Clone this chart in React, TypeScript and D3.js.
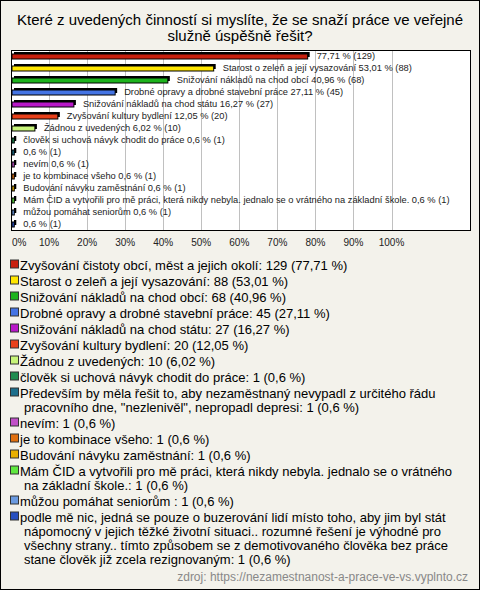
import React from "react";
import * as d3 from "d3";

const W = 480;
const H = 590;

const titleLines = [
  "Které z uvedených činností si myslíte, že se snaží práce ve veřejné",
  "služně úspěšně řešit?",
];

const names = [
  "Zvyšování čistoty obcí, měst a jejich okolí",
  "Starost o zeleň a její vysazování",
  "Snižování nákladů na chod obcí",
  "Drobné opravy a drobné stavební práce",
  "Snižování nákladů na chod státu",
  "Zvyšování kultury bydlení",
  "Žádnou z uvedených",
  "člověk si uchová návyk chodit do práce",
  "Především by měla řešit to, aby nezaměstnaný nevypadl z určitého řádu pracovního dne, \"nezlenivěl\", nepropadl depresi",
  "nevím",
  "je to kombinace všeho",
  "Budování návyku zaměstnání",
  "Mám ČID a vytvořili pro mě práci, která nikdy nebyla. jednalo se o vrátného na základní škole.",
  "můžou pomáhat seniorům ",
  "podle mě nic, jedná se pouze o buzerování lidí místo toho, aby jim byl stát nápomocný v jejich těžké životní situaci.. rozumné řešení je výhodné pro všechny strany.. tímto způsobem se z demotivovaného člověka bez práce stane člověk již zcela rezignovaným",
];

const counts = [129, 88, 68, 45, 27, 20, 10, 1, 1, 1, 1, 1, 1, 1, 1];
const percents = [77.71, 53.01, 40.96, 27.11, 16.27, 12.05, 6.02, 0.6, 0.6, 0.6, 0.6, 0.6, 0.6, 0.6, 0.6];

const colors = [
  "#c8200e", "#ffe600", "#1db31d", "#4474e4", "#b818c8", "#e8401a", "#c8f57a",
  "#1f8c50", "#1d6f8c", "#c050c8", "#e07010", "#e8b000", "#60e840", "#6a9ae0", "#2850c0",
];

const tickValues = [0, 10, 20, 30, 40, 50, 60, 70, 80, 90, 100];
const sourceText = "zdroj: https://nezamestnanost-a-prace-ve-vs.vyplnto.cz";

const FONT = "'Liberation Sans', Arial, sans-serif";

const fmt = (v: number) => String(v).replace(".", ",");

let ctx: CanvasRenderingContext2D | null = null;
function measure(text: string, font: string) {
  if (!ctx) ctx = document.createElement("canvas").getContext("2d");
  if (!ctx) return text.length * 6;
  ctx.font = font;
  return ctx.measureText(text).width;
}

function wrap(text: string, font: string, maxW: number, firstX: number, restX: number) {
  const words = text.split(" ");
  const lines: string[] = [];
  let cur = "";
  for (const w of words) {
    const cand = cur === "" ? w : cur + " " + w;
    const x0 = lines.length === 0 ? firstX : restX;
    if (cur !== "" && x0 + measure(cand, font) > maxW) {
      lines.push(cur);
      cur = w;
    } else {
      cur = cand;
    }
  }
  if (cur !== "") lines.push(cur);
  return lines;
}

export default function App() {
  const idx = names.map((_, i) => i);
  const x = d3.scaleLinear().domain([0, 100]).range([11, 391.5]);
  const y = d3.scaleBand<number>().domain(idx).range([50, 230]);
  const plotL = 11, plotR = 470, plotT = 50, plotB = 230;
  const barH = 5;
  const labelSize = 9.3;
  const labelFont = `${labelSize}px ${FONT}`;
  const legendFont = `13px ${FONT}`;

  // legend layout
  let ly = 269.5;
  const legendItems = idx.map((i) => {
    const text = `${names[i]}: ${counts[i]} (${fmt(percents[i])} %)`;
    const lines = wrap(text, legendFont, 468, 20, 24);
    const item = { i, lines, y: ly };
    ly += 16 + (lines.length - 1) * 14;
    return item;
  });

  return (
    <svg width={W} height={H} style={{ position: "fixed", left: 0, top: 0 }} fontFamily={FONT}>
      <rect x={0.5} y={0.5} width={W - 1} height={H - 1} fill="#f3f2eb" stroke="#000" />
      {titleLines.map((t, k) => (
        <text key={k} x={W / 2} y={25 + k * 16} textAnchor="middle" fontSize={15} fill="#000">
          {t}
        </text>
      ))}
      <rect x={plotL + 0.5} y={plotT + 0.5} width={plotR - plotL} height={plotB - plotT} fill="#fff" stroke="#000" />
      {tickValues.slice(1).map((t) => (
        <line key={t} x1={Math.round(x(t)) + 0.5} x2={Math.round(x(t)) + 0.5} y1={plotT + 1} y2={plotB} stroke="#c0c0c0" />
      ))}
      {idx.map((i) => {
        const cy = (y(i) as number) + y.bandwidth() / 2;
        const x0 = x(0) + 1;
        const w = Math.max(x(percents[i]) - x(0), 1.5);
        const top = cy - barH / 2 + 0.5;
        const valueText = `${fmt(percents[i])} % (${counts[i]})`;
        const full = `${names[i]} ${valueText}`;
        const lx = x0 + w + 9;
        const showName = lx + measure(full, labelFont) < plotR - 4;
        return (
          <g key={i}>
            <rect x={x0 + 2} y={top - 2} width={w} height={barH} fill="#000" />
            <rect x={x0} y={top} width={w} height={barH} fill={colors[i]} stroke="#000" strokeWidth={1} />
            <text x={lx} y={cy + 3.3} fontSize={labelSize} fill="#222">
              {showName ? full : valueText}
            </text>
          </g>
        );
      })}
      {tickValues.map((t, k) => (
        <text key={t} x={k === 0 ? x(t) + 1 : x(t)} y={246} fontSize={10} fill="#222" textAnchor={k === 0 ? "start" : "middle"}>
          {t}%
        </text>
      ))}
      {legendItems.map(({ i, lines, y: yy }) => (
        <g key={i}>
          <rect x={10.5} y={yy - 9.5} width={8} height={8} fill={colors[i]} stroke="#333" />
          {lines.map((ln, k) => (
            <text key={k} x={k === 0 ? 20 : 24} y={yy + k * 14} fontSize={13} fill="#000">
              {ln}
            </text>
          ))}
        </g>
      ))}
      <text x={468} y={581} textAnchor="end" fontSize={12} fill="#888">
        {sourceText}
      </text>
    </svg>
  );
}
